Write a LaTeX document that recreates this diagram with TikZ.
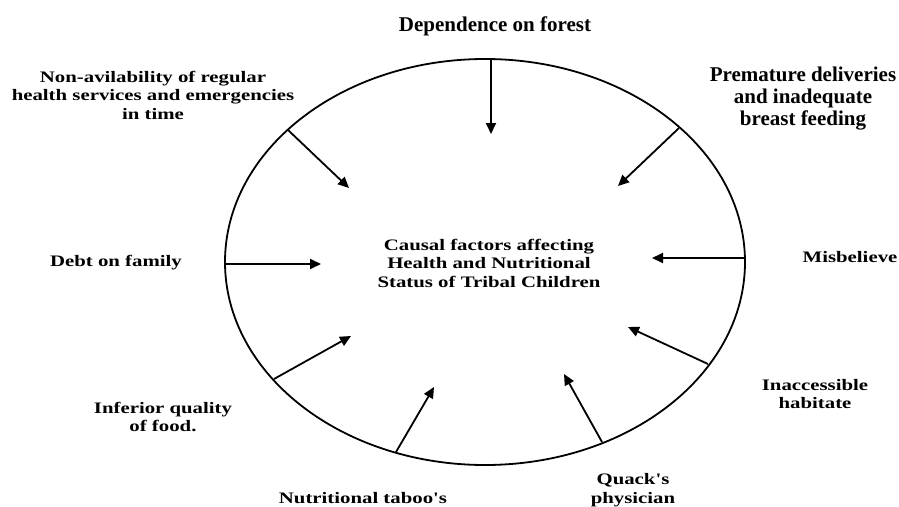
\documentclass[tikz,border=0pt]{standalone}
\usepackage{fontspec}
\setmainfont{Liberation Serif}
\newfontfamily\widefont[FakeStretch=1.3]{Liberation Serif}
\usetikzlibrary{arrows.meta,shapes.geometric}
\begin{document}
\begin{tikzpicture}[x=1pt,y=-1pt,
  lbl/.style={align=center,inner sep=0pt,font=\widefont\bfseries\fontsize{16}{18.5}\selectfont},
  biglbl/.style={align=center,inner sep=0pt,font=\bfseries\fontsize{21}{22}\selectfont},
  cause/.style={line width=1.8pt,-{Triangle[length=11pt,width=10pt]}},
  ring/.style={draw,ellipse,line width=1.8pt,inner sep=0pt,minimum width=520pt,minimum height=406pt}]
\useasboundingbox (0,0) rectangle (899,506);
\node[ring] (E) at (485,262) {};
\node[lbl] (center) at (489,263) {Causal factors affecting\\Health and Nutritional\\Status of Tribal Children};
\node[biglbl] (forest) at (495,26) {Dependence on forest};
\node[lbl] (health) at (153,95) {Non-avilability of regular\\health services and emergencies\\in time};
\node[biglbl] (premature) at (803,99) {Premature deliveries\\and inadequate\\breast feeding};
\node[lbl] (debt) at (116,263) {Debt on family};
\node[lbl] (misb) at (850,257) {Misbelieve};
\node[lbl] (inacc) at (815,394) {Inaccessible\\habitate};
\node[lbl] (food) at (163,417) {Inferior quality\\of food.};
\node[lbl] (taboo) at (363,498) {Nutritional taboo's};
\node[lbl] (quack) at (633,490) {Quack's\\physician};
% arrow start points on the ellipse and tips
\coordinate (s1) at (491,60);  \coordinate (t1) at (491,134);
\coordinate (s2) at (288,130); \coordinate (t2) at (349,188);
\coordinate (s3) at (679,128); \coordinate (t3) at (618,186);
\coordinate (s4) at (226,264); \coordinate (t4) at (321,264);
\coordinate (s5) at (745,258); \coordinate (t5) at (652,258);
\coordinate (s6) at (708,364); \coordinate (t6) at (628,327);
\coordinate (s7) at (274,379); \coordinate (t7) at (351,336);
\coordinate (s8) at (396,452); \coordinate (t8) at (434,387);
\coordinate (s9) at (602,442); \coordinate (t9) at (564,374);
\foreach \i in {1,...,9} \draw[cause] (s\i) -- (t\i);
\end{tikzpicture}
\end{document}
